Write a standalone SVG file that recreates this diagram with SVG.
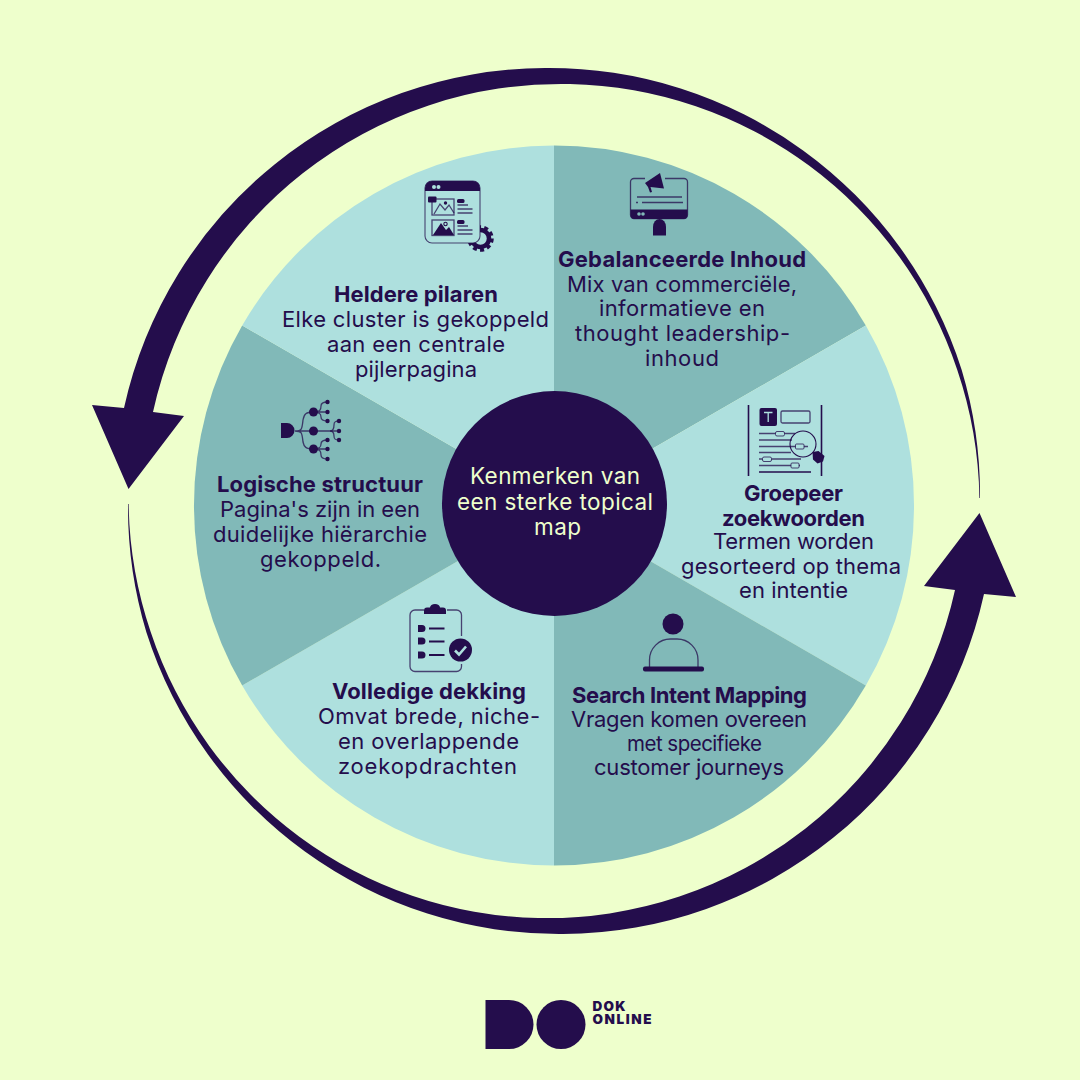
<svg xmlns="http://www.w3.org/2000/svg" xmlns:xlink="http://www.w3.org/1999/xlink" width="1080" height="1080" viewBox="0 0 1080 1080">
<style>
.n{fill:#240d4c}
.l{fill:#aee0de}
.d{fill:#81b9b8}
text{font-family:Inter,"Liberation Sans",sans-serif;font-size:22px;fill:#240d4c;text-anchor:middle;font-weight:400;font-variant-ligatures:none}
.b{font-weight:700}
.c{fill:#eeffcc;font-size:22.5px}
.t{fill:none;stroke:#240d4c;stroke-width:1.1}
.m{fill:none;stroke:#240d4c;stroke-width:1.6}
.g{fill:none;stroke:#240d4c;stroke-opacity:.75;stroke-width:1.3}
.k{font-size:13.500px;font-weight:900;text-anchor:start}
</style>
<defs>
<g id="arrow"><path class="n" d="M124 408A433 433 0 0 1 545 68A433 433 0 0 1 961.700 370A433 433 0 0 1 980 498L979.400 498A417.700 417.700 0 0 0 957.300 370A417.700 417.700 0 0 0 570 84A417.700 417.700 0 0 0 153 412L184 416L128.500 489L92 405Z"/></g>
</defs>
<rect width="1080" height="1080" fill="#eeffcc"/>
<g id="connectors">
<use href="#arrow" xlink:href="#arrow"/>
<use href="#arrow" xlink:href="#arrow" transform="rotate(180 554 501)"/>
</g>
<g id="sectors">
<path class="d" d="M554 505.500V145.500A360 360 0 0 1 865.800 325.500Z"/>
<path class="l" d="M554 505.500L865.800 325.500A360 360 0 0 1 865.800 685.500Z"/>
<path class="d" d="M554 505.500L865.800 685.500A360 360 0 0 1 554 865.500Z"/>
<path class="l" d="M554 505.500V865.500A360 360 0 0 1 242.200 685.500Z"/>
<path class="d" d="M554 505.500L242.200 685.500A360 360 0 0 1 242.200 325.500Z"/>
<path class="l" d="M554 505.500L242.200 325.500A360 360 0 0 1 554 145.500Z"/>
</g>
<g id="node-pilaren">
<g>
<circle cx="480.500" cy="238.500" r="8.500" fill="none" stroke="#240d4c" stroke-width="4.500"/>
<circle cx="480.500" cy="238.500" r="11.500" fill="none" stroke="#240d4c" stroke-width="3.500" stroke-dasharray="4 3.200"/>
<rect x="425" y="181" width="55" height="62" rx="7" stroke="#240d4c" stroke-opacity=".75" stroke-width="1.100" fill="#aee0de"/>
<path class="n" d="M425 191V188a7 7 0 0 1 7-7H473a7 7 0 0 1 7 7V191Z"/>
<circle class="l" cx="434" cy="187" r="2"/><circle class="l" cx="438.500" cy="187" r="2"/>
<rect class="g" x="432" y="199" width="22" height="16"/>
<path class="g" d="M434 214L440 204L445 210L449 205L454 213"/><circle class="n" cx="445.500" cy="203" r="1.700"/>
<rect class="n" x="428" y="196.500" width="8.500" height="6" rx="1"/>
<rect class="g" x="432" y="220" width="22" height="15.500"/>
<path class="n" d="M433 235L441 223L446 230L449 227L454 235Z"/><circle class="t" cx="445.500" cy="224" r="1.700"/>
<rect class="n" x="457" y="199" width="7.500" height="4" rx="1.500"/>
<path class="g" d="M457.500 205H468M457.500 209H472.500M457.500 213H472.500"/>
<rect class="n" x="457" y="220" width="7.500" height="4" rx="1.500"/>
<path class="g" d="M457.500 226H468M457.500 230H472.500M457.500 234H472.500"/>
</g>
<text class="b" x="416" y="302" textLength="164">Heldere pilaren</text>
<text x="415.500" y="327" textLength="267">Elke cluster is gekoppeld</text>
<text x="416" y="352" textLength="178">aan een centrale</text>
<text x="416" y="377" textLength="122">pijlerpagina</text>
</g>
<g id="node-inhoud">
<g>
<path class="g" d="M645 178.500H634a3.500 3.500 0 0 0-3.500 3.500V215a3.500 3.500 0 0 0 3.500 3.500H684a3.500 3.500 0 0 0 3.500-3.500V182a3.500 3.500 0 0 0-3.500-3.500H665"/>
<path class="n" d="M630.500 209.500H687.500V215a4 4 0 0 1-4 4H634.500a4 4 0 0 1-4-4Z"/>
<circle class="d" cx="639" cy="214" r="1.800"/><circle class="d" cx="643" cy="214" r="1.800"/>
<path class="n" d="M645 183L660 173L664 188.500L650.500 187L652 192L650 192.500L648 187Z"/>
<path class="g" d="M637 197H682"/><path class="g" d="M636 202.500H638M642 202.500H683"/>
<path class="n" d="M653 235.500V227a6.500 8 0 0 1 13 0V235.500Z"/>
</g>
<text class="b" x="682" y="267" textLength="248">Gebalanceerde Inhoud</text>
<text x="682" y="292" textLength="230">Mix van commerciële,</text>
<text x="682" y="316" textLength="166">informatieve en</text>
<text x="682.500" y="341" textLength="215">thought leadership-</text>
<text x="682" y="366" textLength="74">inhoud</text>
</g>
<g id="node-zoekwoorden">
<g>
<path class="m" d="M748.500 405V476M821.500 405V476"/>
<rect class="n" x="759.500" y="408" width="17.500" height="18" rx="2"/>
<path d="M764 412.500H772.500M768.200 412.500V422" fill="none" stroke="#aee0de" stroke-width="1.300"/>
<rect class="g" x="781" y="411" width="29" height="12" rx="1.500"/>
<path class="g" d="M759 433.500H795M759 440H792M759 446.500H808M759 452.500H791M759 459H801M759 465.500H800"/>
<path class="m" d="M759 472H811"/>
<rect x="775.500" y="431.500" width="9" height="4.500" rx="1.500" fill="#aee0de" stroke="#240d4c" stroke-opacity=".75"/>
<rect x="795.500" y="444" width="8.500" height="5" rx="1" fill="#aee0de" stroke="#240d4c" stroke-opacity=".75"/>
<rect x="762.500" y="457" width="9" height="4.500" rx="1.500" fill="#aee0de" stroke="#240d4c" stroke-opacity=".75"/>
<rect x="791" y="463" width="8" height="5" rx="1" fill="#aee0de" stroke="#240d4c" stroke-opacity=".75"/>
<circle class="t" cx="803" cy="444" r="13"/>
<path class="n" d="M812.500 452L818.500 451L824.500 456L823 461.500L817.500 463.500L813 459.500Z"/>
</g>
<text class="b" x="793.500" y="501" textLength="99">Groepeer</text>
<text class="b" x="793.500" y="526" textLength="143">zoekwoorden</text>
<text x="793.500" y="549" textLength="161">Termen worden</text>
<text x="791" y="574" textLength="220">gesorteerd op thema</text>
<text x="793.500" y="598" textLength="109">en intentie</text>
</g>
<g id="node-intent">
<g>
<circle class="n" cx="673" cy="624" r="10.500"/>
<path class="g" d="M649.500 667V660a21 21 0 0 1 21-21H677a21 21 0 0 1 21 21V667"/>
<rect class="n" x="643" y="666.500" width="61" height="5" rx="2"/>
</g>
<text class="b" x="689.500" y="703" textLength="235">Search Intent Mapping</text>
<text x="689" y="727" textLength="236">Vragen komen overeen</text>
<text x="694.500" y="751" textLength="135" style="font-size:20.500px">met specifieke</text>
<text x="689" y="775" textLength="190">customer journeys</text>
</g>
<g id="node-dekking">
<g>
<path class="g" d="M424 610H415a5 5 0 0 0-5 5V666.500a5 5 0 0 0 5 5H456.500a5 5 0 0 0 5-5V664M461.500 636V615a5 5 0 0 0-5-5H447"/>
<path class="n" d="M424 614V610.500a3 3 0 0 1 3-3H430a5 3.500 0 0 1 10 0H443a3 3 0 0 1 3 3V614Z"/>
<path class="n" d="M418 625H422a3.500 3.500 0 0 1 0 7H418ZM418 637.500H422a3.500 3.500 0 0 1 0 7H418ZM418 651.500H422a3.500 3.500 0 0 1 0 7H418Z"/>
<path d="M429 628.500H444.500M429 641.500H444.500M429 655H444.500" fill="none" stroke="#240d4c" stroke-width="1.800"/>
<circle class="n" cx="460.500" cy="650" r="11.500"/>
<path d="M455 650.500L459 654.500L466 646.500" fill="none" stroke="#aee0de" stroke-width="2.600"/>
</g>
<text class="b" x="429" y="699" textLength="194">Volledige dekking</text>
<text x="429" y="724" textLength="222">Omvat brede, niche-</text>
<text x="428.500" y="749" textLength="181">en overlappende</text>
<text x="427.500" y="774" textLength="179">zoekopdrachten</text>
</g>
<g id="node-structuur">
<g>
<path class="n" d="M281 423H287a7.500 7.500 0 0 1 7.500 7.500A7.500 7.500 0 0 1 287 438H281Z"/>
<path class="g" d="M295 431H339M295 431C302 431 302 429 303 420C304 414 306 412 313.500 412M295 431C302 431 302 433 303 442C304 447 306 449 313.500 449"/>
<path class="g" d="M313.500 412H327.500M313.500 412C320 412 321 410 321 406C321 403 323 402 327.500 402M313.500 412C320 412 321 414 321 417C321 420 323 421 327.500 421"/>
<path class="g" d="M330 431C333 431 334 429 334 425C334 422 335 421 339 421M330 431C333 431 334 433 334 436C334 439 335 440 339 440"/>
<path class="g" d="M313.500 449H327.500M313.500 449C320 449 321 447 321 444C321 441 323 440 327.500 440M313.500 449C320 449 321 451 321 455C321 458 323 459 327.500 459"/>
<circle class="n" cx="313.500" cy="412" r="4.500"/><circle class="n" cx="313.500" cy="431" r="4.500"/><circle class="n" cx="313.500" cy="449" r="4.500"/>
<circle class="n" cx="327.500" cy="402" r="2.200"/><circle class="n" cx="327.500" cy="412" r="2.200"/><circle class="n" cx="327.500" cy="421" r="2.200"/>
<circle class="n" cx="339" cy="421" r="2.200"/><circle class="n" cx="339" cy="431" r="2.200"/><circle class="n" cx="339" cy="440" r="2.200"/>
<circle class="n" cx="327.500" cy="440" r="2.200"/><circle class="n" cx="327.500" cy="449" r="2.200"/><circle class="n" cx="327.500" cy="459" r="2.200"/>
</g>
<text class="b" x="320" y="492" textLength="206">Logische structuur</text>
<text x="320" y="517" textLength="200">Pagina's zijn in een</text>
<text x="320" y="542" textLength="214">duidelijke hiërarchie</text>
<text x="320.500" y="567" textLength="121">gekoppeld.</text>
</g>
<g id="node-center">
<circle class="n" cx="554.500" cy="503.500" r="112.500"/>
<text class="c" x="555" y="484" textLength="170">Kenmerken van</text>
<text class="c" x="555" y="510" textLength="196">een sterke topical</text>
<text class="c" x="557.500" y="535" textLength="47">map</text>
</g>
<g id="logo">
<path class="n" d="M485.500 1000H509a24.500 24.500 0 0 1 0 49H485.500Z"/>
<circle class="n" cx="561" cy="1024.500" r="24.500"/>
<text class="k" x="592.500" y="1011" textLength="33">DOK</text>
<text class="k" x="592.500" y="1024" textLength="59">ONLINE</text>
</g>
</svg>
